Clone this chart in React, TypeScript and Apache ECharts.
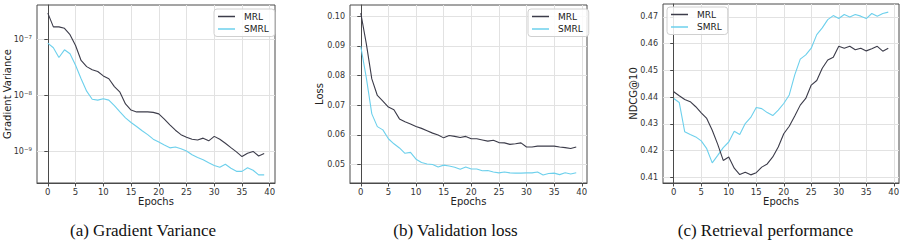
import React, { useEffect, useRef } from "react";
import * as echarts from "echarts";

const epochs = [0,1,2,3,4,5,6,7,8,9,10,11,12,13,14,15,16,17,18,19,20,21,22,23,24,25,26,27,28,29,30,31,32,33,34,35,36,37,38,39];
const xTicks = [0, 5, 10, 15, 20, 25, 30, 35, 40];

const gradVarMRL = [3.0e-7,1.7e-7,1.7e-7,1.6e-7,1.23e-7,7.9e-8,4.25e-8,3.3e-8,2.9e-8,2.7e-8,2.25e-8,2.0e-8,1.45e-8,1.15e-8,7.1e-9,5.5e-9,5.1e-9,5.1e-9,5.1e-9,5.0e-9,4.7e-9,3.8e-9,3.0e-9,2.4e-9,2.0e-9,1.8e-9,1.65e-9,1.6e-9,1.73e-9,1.55e-9,1.86e-9,1.65e-9,1.4e-9,1.17e-9,9.8e-10,8.1e-10,9.3e-10,1.0e-9,8.3e-10,9.2e-10];
const gradVarSMRL = [8.7e-8,7.2e-8,4.8e-8,6.6e-8,5.6e-8,3.5e-8,2.0e-8,1.2e-8,8.6e-9,8.3e-9,8.8e-9,8.3e-9,6.6e-9,5.1e-9,4.0e-9,3.3e-9,2.8e-9,2.35e-9,2.0e-9,1.66e-9,1.47e-9,1.3e-9,1.16e-9,1.2e-9,1.12e-9,1.02e-9,8.7e-10,7.8e-10,7.1e-10,6.3e-10,5.6e-10,5.2e-10,5.9e-10,5.0e-10,4.4e-10,4.4e-10,5.1e-10,4.6e-10,3.8e-10,3.8e-10];
const gradTicks = [1e-9, 1e-8, 1e-7];

const lossMRL = [0.1011,0.0908,0.0789,0.0733,0.0714,0.0694,0.0685,0.0654,0.0644,0.0637,0.0628,0.0622,0.0614,0.0606,0.0600,0.0590,0.0598,0.0595,0.0591,0.0595,0.0587,0.0587,0.0583,0.0579,0.0582,0.0574,0.0573,0.0568,0.0570,0.0573,0.0559,0.0559,0.0562,0.0562,0.0562,0.0562,0.0559,0.0557,0.0554,0.0559];
const lossSMRL = [0.0899,0.0793,0.0671,0.0628,0.0617,0.0587,0.0570,0.0556,0.0538,0.0541,0.0518,0.0507,0.0502,0.0500,0.0492,0.0498,0.0495,0.0491,0.0484,0.0492,0.0485,0.0485,0.0479,0.0480,0.0475,0.0472,0.0475,0.0472,0.0471,0.0471,0.0472,0.0472,0.0475,0.0465,0.0470,0.0471,0.0466,0.0472,0.0468,0.0472];
const lossTicks = [0.05, 0.06, 0.07, 0.08, 0.09, 0.10];

const ndcgMRL = [0.4420,0.4405,0.4391,0.4383,0.4364,0.4341,0.4320,0.4276,0.4223,0.4163,0.4176,0.4134,0.4110,0.4119,0.4109,0.4117,0.4138,0.4150,0.4176,0.4213,0.4263,0.4291,0.4329,0.4370,0.4395,0.4445,0.4462,0.4508,0.4539,0.4549,0.4590,0.4583,0.4590,0.4577,0.4583,0.4573,0.4581,0.4590,0.4572,0.4583];
const ndcgSMRL = [0.4395,0.4380,0.4270,0.4260,0.4251,0.4236,0.4207,0.4154,0.4182,0.4211,0.4232,0.4272,0.4260,0.4301,0.4324,0.4361,0.4357,0.4342,0.4331,0.4351,0.4376,0.4408,0.4483,0.4542,0.4558,0.4583,0.4634,0.4659,0.4690,0.4705,0.4694,0.4709,0.4700,0.4709,0.4703,0.4694,0.4713,0.4703,0.4713,0.4718];
const ndcgTicks = [0.41, 0.42, 0.43, 0.44, 0.45, 0.46, 0.47];

const seriesNames = ["MRL", "SMRL"];
const captions = ["(a) Gradient Variance", "(b) Validation loss", "(c) Retrieval performance"];
const yTitles = ["Gradient Variance", "Loss", "NDCG@10"];

const COLORS = ["#3c3c4a", "#6dd0ec"];
const FONT = "DejaVu Sans";
const SPINE = "#4a4a4a";
const GRIDLINE = "#e2e2e2";

function pad(arr: number[], log = false): [number, number] {
  const f = log ? (v: number) => Math.log10(v) : (v: number) => v;
  const lo = Math.min(...arr.map(f));
  const hi = Math.max(...arr.map(f));
  const m = (hi - lo) * 0.05;
  if (log) return [Math.pow(10, lo - m), Math.pow(10, hi + m)];
  return [lo - m, hi + m];
}

export default function App() {
  const ref = useRef<HTMLDivElement>(null);
  useEffect(() => {
    if (!ref.current) return;
    const chart = echarts.init(ref.current, undefined, { renderer: "svg" });
    const grids = [
      { left: 37, top: 5, width: 238, height: 178 },
      { left: 350, top: 5, width: 237, height: 178 },
      { left: 663, top: 4, width: 236, height: 179 },
    ];
    const xmin = -1.95, xmax = 40.95;
    const xAxes = grids.map((_, i) => ({
      type: "value",
      gridIndex: i,
      min: xmin,
      max: xmax,
      name: "Epochs",
      nameLocation: "middle",
      nameGap: 13.5,
      nameMoveOverlap: false,
      nameTextStyle: { fontFamily: FONT, fontSize: 10, color: "#222" },
      axisLine: { show: true, onZero: false, lineStyle: { color: SPINE, width: 1 } },
      axisTick: { show: true, length: 3.5, customValues: xTicks, lineStyle: { color: SPINE } },
      axisLabel: { customValues: xTicks, margin: 4, fontFamily: FONT, fontSize: 8.5, color: "#333" },
      splitLine: { show: true, lineStyle: { color: GRIDLINE, width: 1 } },
    }));
    const yData = [
      [gradVarMRL, gradVarSMRL],
      [lossMRL, lossSMRL],
      [ndcgMRL, ndcgSMRL],
    ];
    const yTickSets = [gradTicks, lossTicks, ndcgTicks];
    const yNameGaps = [25, 25.3, 24.3];
    const yAxes = grids.map((_, i) => {
      const ext = pad([...yData[i][0], ...yData[i][1]], i === 0);
      const base: any = {
        type: i === 0 ? "log" : "value",
        gridIndex: i,
        min: ext[0],
        max: ext[1],
        name: yTitles[i],
        nameLocation: "middle",
        nameGap: yNameGaps[i],
        nameMoveOverlap: false,
        nameTextStyle: { fontFamily: FONT, fontSize: 10, color: "#222" },
        axisLine: { show: true, lineStyle: { color: SPINE, width: 1 } },
        axisTick: { show: true, length: 3.5, customValues: yTickSets[i], lineStyle: { color: SPINE } },
        axisLabel: {
          customValues: yTickSets[i],
          margin: 5,
          fontFamily: FONT,
          fontSize: 8,
          color: "#333",
        },
        splitLine: { show: true, lineStyle: { color: GRIDLINE, width: 1 } },
      };
      if (i === 0) {
        base.logBase = 10;
        base.axisLabel.formatter = (v: number) => {
          const e = Math.round(Math.log10(v));
          return "{a|10}{b|\u2212" + Math.abs(e) + "}";
        };
        base.axisLabel.rich = {
          a: { fontFamily: FONT, fontSize: 8, color: "#333" },
          b: { fontFamily: FONT, fontSize: 5.5, color: "#333", padding: [0, 0, 5, 0] },
        };
      } else {
        base.axisLabel.formatter = (v: number) => v.toFixed(2);
      }
      return base;
    });
    const series: any[] = [];
    for (let g = 0; g < 3; g++) {
      for (let s = 0; s < 2; s++) {
        series.push({
          type: "line",
          name: seriesNames[s],
          xAxisIndex: g,
          yAxisIndex: g,
          data: epochs.map((e, k) => [e, yData[g][s][k]]),
          showSymbol: false,
          symbol: "none",
          lineStyle: { color: COLORS[s], width: 1.1 },
          itemStyle: { color: COLORS[s] },
          z: s === 0 ? 3 : 2,
        });
      }
    }
    const legendPos = [
      { left: 214, top: 9 },
      { left: 528, top: 9 },
      { left: 667, top: 7 },
    ];
    const legends = legendPos.map((p) => ({
      ...p,
      orient: "vertical",
      data: seriesNames.map((n, k) => ({ name: n, icon: "rect", itemStyle: { color: COLORS[k] } })),
      itemWidth: 17,
      itemHeight: 1.5,
      itemGap: 3.5,
      padding: [3, 6, 3, 4],
      backgroundColor: "rgba(255,255,255,0.85)",
      borderColor: "#d0d0d0",
      borderWidth: 1,
      borderRadius: 3,
      textStyle: { fontFamily: FONT, fontSize: 9, color: "#222", padding: [0, 0, 0, 4] },
      selectedMode: false,
    }));
    const graphic = captions.map((c, i) => ({
      type: "text",
      x: [143, 455.5, 765.5][i],
      y: 230.5,
      style: {
        text: c,
        fontFamily: "Liberation Serif",
        fontSize: 17,
        fill: "#111",
        textAlign: "center",
        textVerticalAlign: "middle",
      },
    }));
    chart.setOption({
      animation: false,
      backgroundColor: "#ffffff",
      grid: grids.map((g) => ({
        ...g,
        containLabel: false,
        outerBoundsMode: "none",
        show: true,
        borderColor: SPINE,
        borderWidth: 1,
        backgroundColor: "transparent",
      })),
      xAxis: xAxes,
      yAxis: yAxes,
      legend: legends,
      series,
      graphic,
    });
    return () => chart.dispose();
  }, []);
  return (
    <div
      ref={ref}
      style={{ position: "fixed", left: 0, top: 0, width: 902, height: 241 }}
    />
  );
}
